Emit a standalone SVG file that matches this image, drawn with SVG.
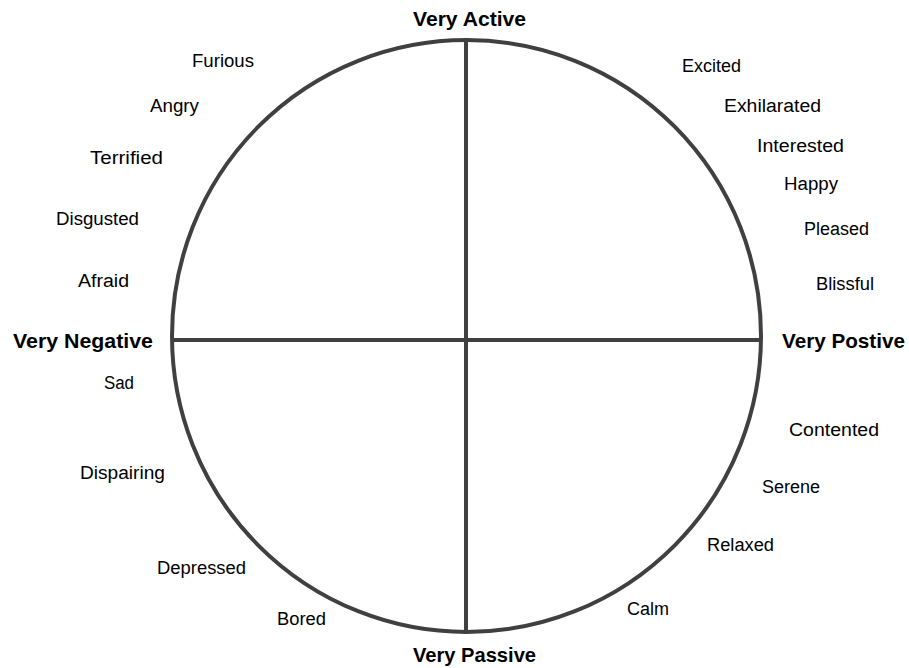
<svg xmlns="http://www.w3.org/2000/svg" width="909" height="668" viewBox="0 0 909 668">
<style>
.ax{fill:none;stroke:#404040;stroke-width:4}
.lb{font-family:"Liberation Sans",Arial,sans-serif;font-size:18px;fill:#000}
.bd{font-family:"Liberation Sans",Arial,sans-serif;font-size:21px;font-weight:bold;fill:#000}
</style>
<rect width="909" height="668" fill="#fff"/>
<g id="connectors">
<ellipse id="circle" class="ax" cx="466.5" cy="336" rx="294.5" ry="296"/>
<line class="ax" x1="466" y1="40" x2="466" y2="632"/>
<line class="ax" x1="172" y1="340" x2="761" y2="340"/>
</g>
<g id="axis-labels">
<text id="very-active" class="bd" x="413" y="26" textLength="113" lengthAdjust="spacingAndGlyphs">Very Active</text>
<text id="very-passive" class="bd" x="413" y="662" textLength="123" lengthAdjust="spacingAndGlyphs">Very Passive</text>
<text id="very-negative" class="bd" x="13" y="348" textLength="140" lengthAdjust="spacingAndGlyphs">Very Negative</text>
<text id="very-positive" class="bd" x="782" y="348" textLength="123" lengthAdjust="spacingAndGlyphs">Very Postive</text>
</g>
<g id="emotions">
<text id="furious" class="lb" x="192" y="67" textLength="62" lengthAdjust="spacingAndGlyphs">Furious</text>
<text id="angry" class="lb" x="150" y="112" textLength="49" lengthAdjust="spacingAndGlyphs">Angry</text>
<text id="terrified" class="lb" x="90" y="164" textLength="73" lengthAdjust="spacingAndGlyphs">Terrified</text>
<text id="disgusted" class="lb" x="56" y="225" textLength="83" lengthAdjust="spacingAndGlyphs">Disgusted</text>
<text id="afraid" class="lb" x="78" y="287" textLength="51" lengthAdjust="spacingAndGlyphs">Afraid</text>
<text id="sad" class="lb" x="104" y="389" textLength="30" lengthAdjust="spacingAndGlyphs">Sad</text>
<text id="dispairing" class="lb" x="80" y="479" textLength="85" lengthAdjust="spacingAndGlyphs">Dispairing</text>
<text id="depressed" class="lb" x="157" y="574" textLength="89" lengthAdjust="spacingAndGlyphs">Depressed</text>
<text id="bored" class="lb" x="277" y="625" textLength="49" lengthAdjust="spacingAndGlyphs">Bored</text>
<text id="excited" class="lb" x="682" y="72" textLength="59" lengthAdjust="spacingAndGlyphs">Excited</text>
<text id="exhilarated" class="lb" x="724" y="112" textLength="97" lengthAdjust="spacingAndGlyphs">Exhilarated</text>
<text id="interested" class="lb" x="757" y="152" textLength="87" lengthAdjust="spacingAndGlyphs">Interested</text>
<text id="happy" class="lb" x="784" y="190" textLength="54" lengthAdjust="spacingAndGlyphs">Happy</text>
<text id="pleased" class="lb" x="804" y="235" textLength="65" lengthAdjust="spacingAndGlyphs">Pleased</text>
<text id="blissful" class="lb" x="816" y="290" textLength="58" lengthAdjust="spacingAndGlyphs">Blissful</text>
<text id="contented" class="lb" x="789" y="436" textLength="90" lengthAdjust="spacingAndGlyphs">Contented</text>
<text id="serene" class="lb" x="762" y="493" textLength="58" lengthAdjust="spacingAndGlyphs">Serene</text>
<text id="relaxed" class="lb" x="707" y="551" textLength="67" lengthAdjust="spacingAndGlyphs">Relaxed</text>
<text id="calm" class="lb" x="627" y="615" textLength="42" lengthAdjust="spacingAndGlyphs">Calm</text>
</g>
</svg>
